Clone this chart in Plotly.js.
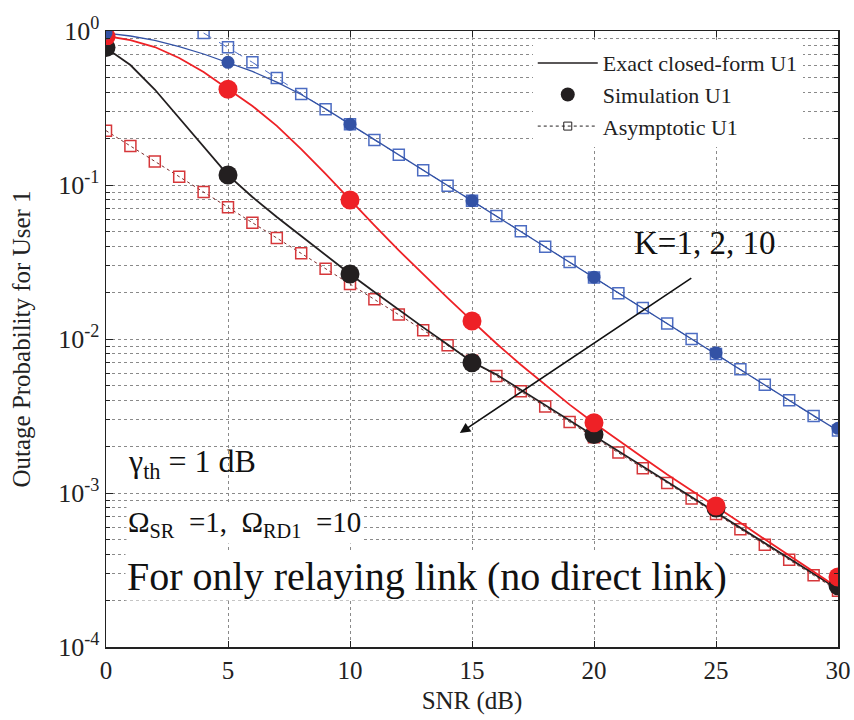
<!DOCTYPE html>
<html>
<head>
<meta charset="utf-8">
<script src="https://cdn.plot.ly/plotly-3.0.1.min.js"></script>
<style>html,body{margin:0;padding:0;background:#fff;}#chart{width:854px;height:720px;}</style>
</head>
<body>
<div id="chart"></div>
<script>
// SNR axis (dB)
const snr = [0,1,2,3,4,5,6,7,8,9,10,11,12,13,14,15,16,17,18,19,20,21,22,23,24,25,26,27,28,29,30];
const snrSim = [0,5,10,15,20,25,30];
const snrAsymK1 = [4,5,6,7,8,9,10,11,12,13,14,15,16,17,18,19,20,21,22,23,24,25,26,27,28,29,30];

// Exact closed-form, K = 1 (blue)
const exactK1 = [0.970,0.928,0.868,0.793,0.709,0.623,0.546,0.466,0.387,0.312,0.248,0.1955,0.156,0.124,0.0985,0.0788,0.0626,0.0498,0.0396,0.0315,0.0250,0.0199,0.0158,0.01255,0.00997,0.00795,0.00633,0.00503,0.00399,0.00318,0.00254];
// Exact closed-form, K = 2 (red)
const exactK2 = [0.928,0.874,0.787,0.668,0.542,0.420,0.326,0.242,0.171,0.118,0.080,0.0546,0.0376,0.0262,0.0185,0.0131,0.00935,0.00680,0.00502,0.00375,0.00285,0.00219,0.00170,0.00132,0.00104,0.000824,0.000641,0.000500,0.000391,0.000307,0.000242];
// Exact closed-form, K = 10 (black)
const exactK10 = [0.776,0.601,0.417,0.272,0.1766,0.116,0.0836,0.0620,0.0467,0.0351,0.0264,0.0202,0.0154,0.0119,0.00921,0.00710,0.00588,0.00468,0.00372,0.00296,0.00236,0.00187,0.00149,0.00118,0.000940,0.000748,0.000594,0.000472,0.000376,0.000299,0.000237];

// Simulation points
const simK1 = [0.970,0.626,0.248,0.079,0.0252,0.00815,0.00263];
const simK2 = [0.920,0.418,0.080,0.0131,0.00286,0.000824,0.000285];
const simK10 = [0.780,0.116,0.0264,0.00702,0.00240,0.000800,0.000250];

// Asymptotic
const asymK1 = [0.970,0.783,0.626,0.495,0.390,0.310,0.248,0.196,0.157,0.1245,0.099,0.079,0.0629,0.0500,0.0397,0.0316,0.0251,0.0198,0.0159,0.0126,0.0100,0.0080,0.00635,0.00505,0.00400,0.00316,0.00255];
const asymK2 = [0.2254,0.1791,0.1423,0.1132,0.0901,0.0716,0.0569,0.0453,0.0360,0.0286,0.0228,0.0181,0.0144,0.0114,0.00910,0.00723,0.00575,0.00457,0.00364,0.00289,0.00230,0.00183,0.00145,0.00116,0.000920,0.000731,0.000581,0.000462,0.000368,0.000292,0.000232];

// Tick labels
const xTickVals = [0,5,10,15,20,25,30];
const yTickVals = [1e-4,1e-3,1e-2,1e-1,1];
const yTickText = ['10<sup>-4</sup>','10<sup>-3</sup>','10<sup>-2</sup>','10<sup>-1</sup>','10<sup>0</sup>'];
const yMinorTicks = [
  2e-4,3e-4,4e-4,5e-4,6e-4,7e-4,8e-4,9e-4,
  2e-3,3e-3,4e-3,5e-3,6e-3,7e-3,8e-3,9e-3,
  2e-2,3e-2,4e-2,5e-2,6e-2,7e-2,8e-2,9e-2,
  2e-1,3e-1,4e-1,5e-1,6e-1,7e-1,8e-1,9e-1
];

const RED = '#ee2126', BLACK = '#231f20', BLUE = '#3352a5';
const SQRED = '#d6373a', SQBLUE = '#4c6cc2';

const traces = [
  {x: snr, y: asymK2, mode: 'lines+markers', showlegend: false,
   line: {color: '#7a2a2a', width: 1, dash: 'dot'},
   marker: {symbol: 'square-open', size: 11, color: SQRED, line: {width: 1.5, color: SQRED}}},
  {x: snrAsymK1, y: asymK1, mode: 'lines+markers', showlegend: false,
   line: {color: SQBLUE, width: 1, dash: 'dash'},
   marker: {symbol: 'square-open', size: 11, color: SQBLUE, line: {width: 1.5, color: SQBLUE}}},
  {x: snr, y: exactK1, mode: 'lines', showlegend: false, line: {color: BLUE, width: 1.3}},
  {x: snr, y: exactK10, mode: 'lines', showlegend: false, line: {color: BLACK, width: 1.8}},
  {x: snr, y: exactK2, mode: 'lines', showlegend: false, line: {color: RED, width: 1.8}},
  {x: snrSim, y: simK10, mode: 'markers', showlegend: false, marker: {color: BLACK, size: 19}},
  {x: snrSim, y: simK2, mode: 'markers', showlegend: false, marker: {color: RED, size: 19}},
  {x: snrSim, y: simK1, mode: 'markers', showlegend: false, marker: {color: BLUE, size: 13}},
  {x: [null], y: [null], mode: 'lines', name: 'Exact closed-form U1', line: {color: BLACK, width: 1.5}},
  {x: [null], y: [null], mode: 'markers', name: 'Simulation U1', marker: {color: BLACK, size: 14}},
  {x: [null], y: [null], mode: 'lines+markers', name: 'Asymptotic U1',
   line: {color: BLACK, width: 1, dash: 'dot'},
   marker: {symbol: 'square-open', size: 8, color: BLACK, line: {width: 1, color: BLACK}}}
];

const FONT = 'Liberation Serif, DejaVu Serif, serif';
const GRID = '#8a8a8a';

const layout = {
  width: 854, height: 720,
  margin: {l: 106, r: 16, t: 31, b: 73},
  paper_bgcolor: '#fff', plot_bgcolor: '#fff',
  font: {family: FONT, color: '#222', size: 22},
  showlegend: true,
  legend: {x: 0.583, y: 0.982, xanchor: 'left', yanchor: 'top',
           bgcolor: '#fff', borderwidth: 0, font: {family: FONT, size: 22, color: '#222'},
           tracegroupgap: 0, itemwidth: 60},
  xaxis: {
    range: [0, 30], tickmode: 'array', tickvals: xTickVals,
    showgrid: true, gridcolor: GRID, griddash: 'dot', gridwidth: 1,
    showline: true, linecolor: '#222', linewidth: 1.5, mirror: 'ticks',
    ticks: 'inside', ticklen: 6, tickcolor: '#222',
    zeroline: false, tickfont: {size: 25},
    title: {text: 'SNR (dB)', font: {size: 25}, standoff: 9}
  },
  yaxis: {
    type: 'log', range: [-4, 0], tickmode: 'array',
    tickvals: yTickVals, ticktext: yTickText,
    showgrid: true, gridcolor: GRID, griddash: 'dot', gridwidth: 1,
    minor: {tickmode: 'array', tickvals: yMinorTicks, showgrid: true, gridcolor: GRID, griddash: 'dot', gridwidth: 1,
            ticks: 'inside', ticklen: 4, tickcolor: '#222'},
    showline: true, linecolor: '#222', linewidth: 1.5, mirror: 'ticks',
    ticks: 'inside', ticklen: 7, tickcolor: '#222',
    zeroline: false, tickfont: {size: 26},
    title: {text: 'Outage Probability for User 1', font: {size: 25}, standoff: 20}
  },
  annotations: [
    {text: 'K=1, 2, 10', xref: 'paper', yref: 'paper', x: 0.818, y: 0.656,
     xanchor: 'center', yanchor: 'middle', showarrow: false, font: {size: 33, color: '#111'}},
    {xref: 'x', yref: 'y', x: 14.5, y: Math.log10(0.00245), ax: 233, ay: -156,
     axref: 'pixel', ayref: 'pixel', text: '', showarrow: true,
     arrowhead: 2, arrowsize: 1.3, arrowwidth: 1.6, arrowcolor: '#111'},
    {text: 'γ<sub>th</sub> = 1 dB', xref: 'paper', yref: 'paper', x: 0.028, y: 0.298,
     xanchor: 'left', yanchor: 'middle', showarrow: false, font: {size: 32, color: '#111'}},
    {text: 'Ω<sub>SR</sub>  =1,  Ω<sub>RD1</sub>  =10', xref: 'paper', yref: 'paper', x: 0.028, y: 0.2,
     xanchor: 'left', yanchor: 'middle', showarrow: false, font: {size: 29, color: '#111'}, bgcolor: '#fff'},
    {text: 'For only relaying link (no direct link)', xref: 'paper', yref: 'paper', x: 0.026, y: 0.114,
     xanchor: 'left', yanchor: 'middle', showarrow: false, font: {size: 40, color: '#111'}, bgcolor: '#fff'}
  ]
};

Plotly.newPlot('chart', traces, layout, {displayModeBar: false, staticPlot: true});
</script>
</body>
</html>
